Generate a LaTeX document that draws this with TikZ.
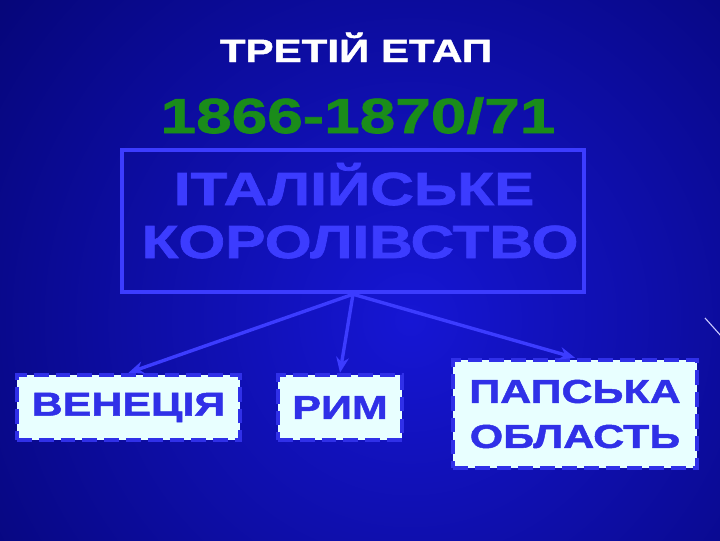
\documentclass[tikz,border=0pt]{standalone}
\usepackage{fontspec}
\setmainfont{Liberation Sans}[FakeStretch=1.3, BoldFeatures={FakeBold=1.5}]
\usepackage{xcolor}
\usetikzlibrary{arrows.meta}
\definecolor{bgInner}{RGB}{22,22,212}
\definecolor{bgOuter}{RGB}{0,0,90}
\definecolor{frameBlue}{RGB}{60,60,255}
\definecolor{labelBlue}{RGB}{48,48,232}
\definecolor{boxFill}{RGB}{232,255,255}
\definecolor{yearGreen}{RGB}{26,140,26}
\definecolor{streak}{RGB}{200,200,255}

\begin{document}
\begin{tikzpicture}[x=0.025cm, y=-0.025cm,
    area/.style={rectangle, draw=labelBlue, line width=3.2pt, dash pattern=on 10.5pt off 5pt, fill=boxFill, text=labelBlue, font=\bfseries\fontsize{23.5}{32}\selectfont, align=center, inner sep=0pt},
    bigtext/.style={anchor=base, text=frameBlue, font=\bfseries\fontsize{33}{33}\selectfont},
    link/.style={-{Stealth[length=11pt,width=9pt]}, draw=frameBlue, line width=2.4pt}]
    % background
    \useasboundingbox (0,0) rectangle (720,540);
    \begin{scope}
        \clip (0,0) rectangle (720,540);
        \shade[inner color=bgInner, outer color=bgOuter] (410,320) circle (700);
        \draw[streak, line width=0.8pt] (705,318) -- (722,337);
    \end{scope}

    % heading
    \node[anchor=base, text=white, font=\bfseries\fontsize{23}{28}\selectfont] (stage) at (356,62) {ТРЕТІЙ ЕТАП};
    \node[anchor=base, text=yearGreen, font=\bfseries\fontsize{35}{40}\selectfont] (years) at (358,133) {1866-1870/71};
    \node[rectangle, draw=frameBlue, line width=3.2pt, minimum width=11.55cm, minimum height=3.55cm] (kingdom) at (353,221) {};
    \node[bigtext] (italian) at (354,205) {ІТАЛІЙСЬКЕ};
    \node[bigtext] (realm) at (360,258) {КОРОЛІВСТВО};

    % regions
    \node[area, minimum width=5.575cm, minimum height=1.625cm] (venice) at (128.5,407.5) {ВЕНЕЦІЯ};
    \node[area, minimum width=3.1cm, minimum height=1.625cm] (rome) at (340,407.5) {РИМ};
    \node[area, minimum width=6.1cm, minimum height=2.7cm] (papal) at (575,414) {ПАПСЬКА\\ОБЛАСТЬ};

    \draw[link] (kingdom.south) -- (venice.north);
    \draw[link] (kingdom.south) -- (rome.north);
    \draw[link] (kingdom.south) -- (papal.north);
\end{tikzpicture}
\end{document}
